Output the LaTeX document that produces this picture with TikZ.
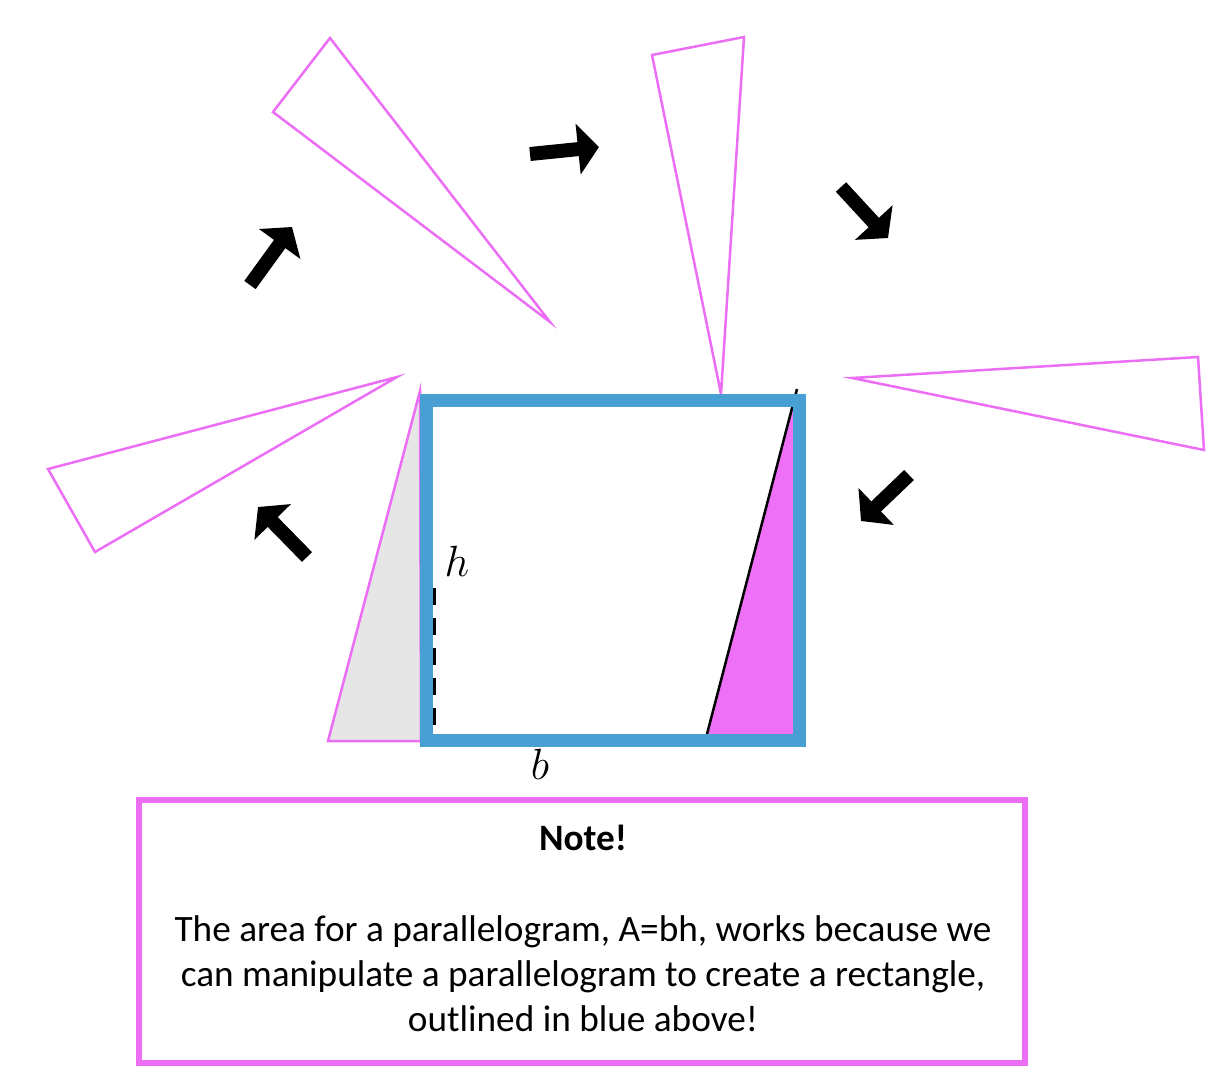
\documentclass[tikz,border=0pt]{standalone}
\usepackage{fontspec}
\setmainfont{Carlito}
\usetikzlibrary{arrows.meta}
\definecolor{rectblue}{HTML}{479FD4}
\definecolor{pinkline}{HTML}{EB6EF5}
\definecolor{pinkfill}{HTML}{EE70F6}
\definecolor{greyfill}{HTML}{E6E6E6}
\tikzset{
  outtri/.style={draw=pinkline, line width=0.05cm, line join=miter},
  blockarrow/.style={line width=0.28cm, -{Triangle[length=0.42cm,width=1.0cm]}},
  notebox/.style={draw=pinkline, line width=0.12cm},
  notetext/.style={font=\fontsize{21.2}{25.6}\selectfont, align=center},
  lbl/.style={font=\fontsize{23}{23}\selectfont, inner sep=0pt},
}
\begin{document}
\begin{tikzpicture}[x=0.02cm,y=-0.02cm]
\useasboundingbox (0,0) rectangle (1228,1082);
% outlined triangles
\draw[outtri] (330,38) -- (273,112) -- (550,322) -- cycle;
\draw[outtri] (652,55) -- (744,37) -- (721,394) -- cycle;
\draw[outtri] (852,378) -- (1198,357) -- (1204,450) -- cycle;
\draw[outtri] (397,377) -- (48,469) -- (95,552) -- cycle;
% grey triangle
\draw[outtri, fill=greyfill] (420,391) -- (328,741) -- (421,741) -- cycle;
% magenta filled triangle with black hypotenuse
\fill[pinkfill] (797,391) -- (707,734) -- (797,734) -- cycle;
\draw[black, line width=0.05cm] (797,389) -- (707,734);
% dashed height
\coordinate (htop) at (434,588);
\coordinate (hbot) at (434,734);
\draw[black, line width=0.065cm, dash pattern=on 0.34cm off 0.26cm] (htop) -- (hbot);
% blue rectangle
\draw[rectblue, line width=0.26cm, line join=miter] (426.5,400.5) rectangle (799,740);
% labels
\node[lbl] (hl) at (457,561) {$h$};
\node[lbl] (bl) at (540,764) {$b$};
% arrows
\coordinate (a1s) at (250,285); \coordinate (a1e) at (292,227);
\coordinate (a2s) at (530,154); \coordinate (a2e) at (599,147);
\coordinate (a3s) at (841,187); \coordinate (a3e) at (888,238);
\coordinate (a4s) at (909,475); \coordinate (a4e) at (861,521);
\coordinate (a5s) at (307,557); \coordinate (a5e) at (258,507);
\draw[blockarrow] (a1s) -- (a1e);
\draw[blockarrow] (a2s) -- (a2e);
\draw[blockarrow] (a3s) -- (a3e);
\draw[blockarrow] (a4s) -- (a4e);
\draw[blockarrow] (a5s) -- (a5e);
% note box
\draw[notebox] (139,800) rectangle (1025,1063);
\node[notetext, font=\fontsize{21.2}{25.6}\selectfont\bfseries] (nt) at (583,838) {Note!};
\node[notetext] (body) at (583,974) {The area for a parallelogram, A=bh, works because we\\ can manipulate a parallelogram to create a rectangle,\\ outlined in blue above!};
\end{tikzpicture}
\end{document}
